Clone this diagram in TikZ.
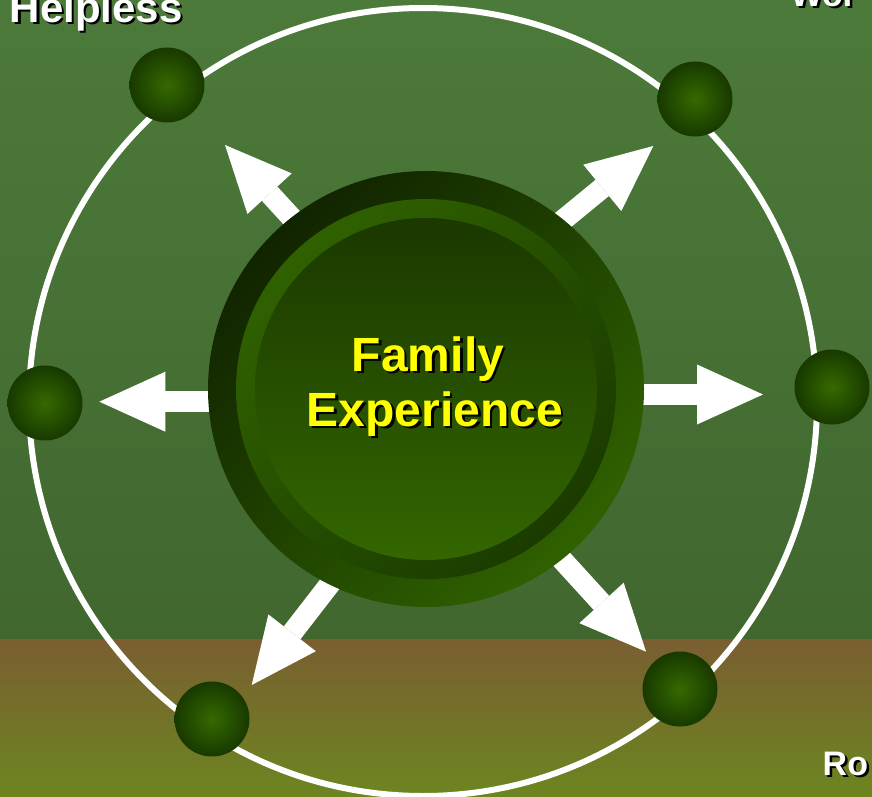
\documentclass[tikz,border=0pt]{standalone}
\usepackage{fontspec}
\setmainfont{Liberation Sans}
\usetikzlibrary{arrows.meta}

% palette
\definecolor{bgtop}{HTML}{4C7A3A}
\definecolor{bgmid}{HTML}{41672F}
\definecolor{soiltop}{HTML}{7A5E31}
\definecolor{soilbot}{HTML}{6C8620}
\definecolor{hubdark}{HTML}{112400}
\definecolor{hubbright}{HTML}{2F6100}
\definecolor{ringdark}{HTML}{1B3B00}
\definecolor{coretop}{HTML}{1B3800}
\definecolor{corebot}{HTML}{336600}
\definecolor{budin}{HTML}{356A00}
\definecolor{budout}{HTML}{183900}
\definecolor{caption}{HTML}{FFFF00}

% text with a black drop shadow set behind it
\newcommand{\dropshadow}[1]{\rlap{\kern2.5pt\raisebox{-2.5pt}{\color{black}#1}}#1}

\tikzset{
  bud/.style={circle, minimum size=75pt, inner sep=0pt,
    inner color=budin, outer color=budout},
  spoke/.style={line width=21pt, white,
    -{Triangle[width=60pt,length=66pt,line width=0pt]}},
  disc/.style={circle, inner sep=0pt},
  hubfont/.style={font=\fontsize{48}{55}\selectfont\bfseries, inner sep=0pt,
    anchor=base, text=caption},
  rimfont/.style={font=\fontsize{#1}{#1}\selectfont\bfseries, inner sep=0pt,
    anchor=base west, text=white},
}

\begin{document}
\begin{tikzpicture}[x=1pt, y=-1pt]
  \useasboundingbox (0,0) rectangle (872,797);
  \clip (0,0) rectangle (872,797);

  % backdrop: meadow above, soil band below
  \fill[top color=bgtop, bottom color=bgmid] (0,0) rectangle (872,639);
  \fill[top color=soiltop, bottom color=soilbot] (0,639) rectangle (872,797);

  % orbit
  \draw[white, line width=6pt] (423,402) circle[radius=394pt];

  % spokes leaving the hub
  \coordinate (tl-tail) at (339.8,270.3);  \coordinate (tl-tip) at (225,145);
  \coordinate (tr-tail) at (521.7,254);    \coordinate (tr-tip) at (653.3,146);
  \coordinate (l-tail)  at (300,401.7);    \coordinate (l-tip)  at (99.3,401.7);
  \coordinate (r-tail)  at (560,394.5);    \coordinate (r-tip)  at (763,394.5);
  \coordinate (bl-tail) at (355.7,550.7);  \coordinate (bl-tip) at (251.7,685);
  \coordinate (br-tail) at (531.4,526.1);  \coordinate (br-tip) at (646,651.7);
  \foreach \s in {tl,tr,l,r,bl,br}
    \draw[spoke] (\s-tail) -- (\s-tip);

  % hub
  \node[disc, minimum size=436pt, top color=hubdark, bottom color=hubbright,
        shading angle=45] (hub) at (426,389) {};
  \node[disc, minimum size=380pt, top color=hubbright, bottom color=ringdark,
        shading angle=45] (hubring) at (hub.center) {};
  \node[disc, minimum size=342pt, top color=coretop, bottom color=corebot]
        (hubcore) at (hub.center) {};

  % hub caption
  \node[hubfont] (family) at (428,371) {\dropshadow{Family}};
  \node[hubfont] (experience) at (435,426) {\dropshadow{Experience}};

  % buds on the orbit
  \node[bud] (bud-tl) at (167,85) {};
  \node[bud] (bud-tr) at (695,99) {};
  \node[bud] (bud-l)  at (45,403) {};
  \node[bud] (bud-r)  at (832,387) {};
  \node[bud] (bud-bl) at (212,719) {};
  \node[bud] (bud-br) at (680,689) {};

  % rim labels
  \node[rimfont=42] (helpless) at (9.5,22.5) {\dropshadow{Helpless}};
  \node[rimfont=34] (wor) at (790.5,6.5) {\dropshadow{Wor}};
  \node[rimfont=34] (ro) at (822.5,775) {\dropshadow{Ro}};
\end{tikzpicture}
\end{document}
